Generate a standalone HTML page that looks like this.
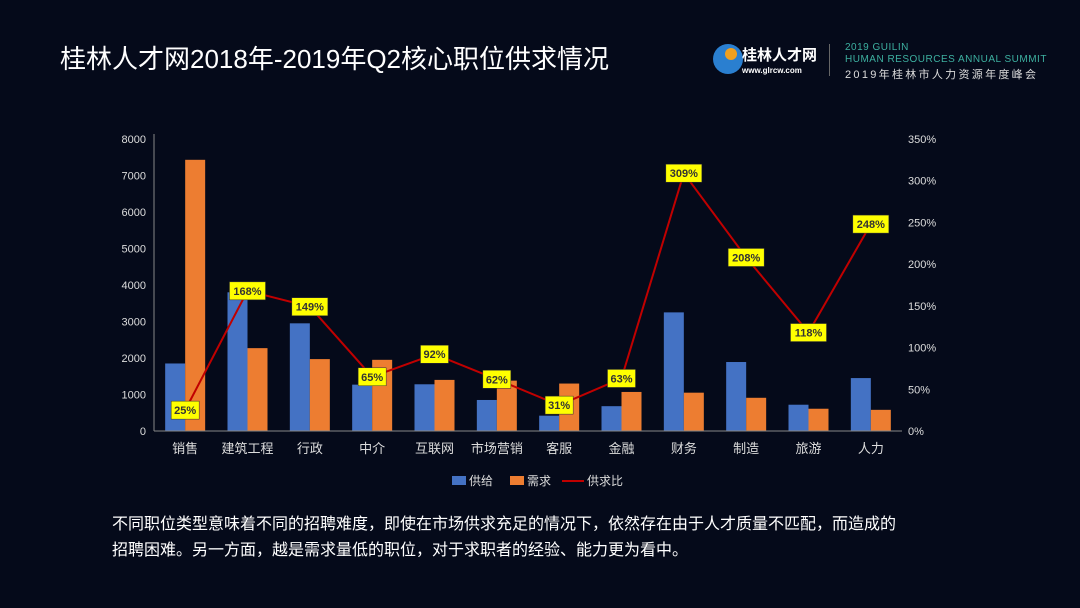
<!DOCTYPE html>
<html><head><meta charset="utf-8">
<style>
body{margin:0;width:1080px;height:608px;background:#050a1a;overflow:hidden;font-family:"Liberation Sans","Noto Sans CJK SC",sans-serif;color:#fff;position:relative}
.t{position:absolute}
</style></head><body>
<div class="t" style="left:60px;top:39px;font-size:26px;color:#fff">桂林人才网2018年-2019年Q2核心职位供求情况</div>
<div class="t" style="left:713px;top:44px;width:30px;height:30px;border-radius:50%;background:#2a7fd0"></div>
<div class="t" style="left:725px;top:48px;width:12px;height:12px;border-radius:50%;background:#f0a020"></div>
<div class="t" style="left:742px;top:44px;font-size:15px;font-weight:bold">桂林人才网</div>
<div class="t" style="left:742px;top:66px;font-size:8px;font-weight:bold">www.glrcw.com</div>
<div class="t" style="left:829px;top:44px;width:1px;height:32px;background:#666"></div>
<div class="t" style="left:845px;top:42px;font-size:10px;line-height:12px;color:#3db0a0;letter-spacing:0.5px">2019 GUILIN<br>HUMAN RESOURCES ANNUAL SUMMIT</div>
<div class="t" style="left:845px;top:66px;font-size:11px;color:#ddd;letter-spacing:2.3px">2019年桂林市人力资源年度峰会</div>
<svg class="t" style="left:0;top:0" width="1080" height="608" id="chart"></svg>
<div class="t" style="left:112px;top:512px;font-size:16px;line-height:26px;color:#fff">不同职位类型意味着不同的招聘难度，即使在市场供求充足的情况下，依然存在由于人才质量不匹配，而造成的<br>招聘困难。另一方面，越是需求量低的职位，对于求职者的经验、能力更为看中。</div>
<script>
const categories=["销售","建筑工程","行政","中介","互联网","市场营销","客服","金融","财务","制造","旅游","人力"];
const supply=[1850,3800,2950,1270,1280,850,420,680,3250,1890,720,1450];
const demand=[7430,2270,1970,1950,1400,1380,1300,1070,1050,910,610,580];
const ratio=[25,168,149,65,92,62,31,63,309,208,118,248];
const leftTicks=[0,1000,2000,3000,4000,5000,6000,7000,8000];
const rightTicks=[0,50,100,150,200,250,300,350];
const NS="http://www.w3.org/2000/svg";
const svg=document.getElementById('chart');
const X0=154,X1=902,Y0=431,Y1=139;
const band=(X1-X0)/categories.length;
const xc=i=>X0+band*(i+0.5);
const yL=v=>Y0-v/8000*(Y0-Y1);
const yR=v=>Y0-v/350*(Y0-Y1);
function mk(tag,attrs,parent){const e=document.createElementNS(NS,tag);for(const k in attrs)e.setAttribute(k,attrs[k]);(parent||svg).appendChild(e);return e;}
leftTicks.forEach(v=>{const t=mk('text',{x:146,y:yL(v)+4,'text-anchor':'end','font-size':11,fill:'#ddd'});t.textContent=v;

});
rightTicks.forEach(v=>{const t=mk('text',{x:908,y:yR(v)+4,'font-size':11,fill:'#ddd'});t.textContent=v+'%';

});
const la=mk('line',{x1:X0,y1:Y1-5,x2:X0,y2:Y0,stroke:'#888'});


categories.forEach((c,i)=>{
 const b=mk('rect',{x:xc(i)-20,y:yL(supply[i]),width:20,height:Y0-yL(supply[i]),fill:'#4472c4'});
 
 
 const d=mk('rect',{x:xc(i),y:yL(demand[i]),width:20,height:Y0-yL(demand[i]),fill:'#ed7d31'});
 
 
 const t=mk('text',{x:xc(i),y:453,'text-anchor':'middle','font-size':13,fill:'#ddd'});t.textContent=c;
 
 
});
const xa=mk('line',{x1:X0,y1:Y0,x2:X1,y2:Y0,stroke:'#888'});


const pl=mk('polyline',{points:ratio.map((r,i)=>xc(i)+','+yR(r)).join(' '),fill:'none',stroke:'#c00000','stroke-width':2});


ratio.forEach((r,i)=>{
 const w=r>=100?36:28;
 const bx=mk('rect',{x:xc(i)-w/2,y:yR(r)-9,width:w,height:18,fill:'#ffff00',stroke:'#333','stroke-width':0.5});
 
 
 const t=mk('text',{x:xc(i),y:yR(r)+4,'text-anchor':'middle','font-size':11,'font-weight':'bold',fill:'#333'});t.textContent=r+'%';
 
 
});
const lg=[[452,'#4472c4','供给','rect'],[510,'#ed7d31','需求','rect'],[562,'#c00000','供求比','line']];
lg.forEach(([x,c,l,ty])=>{
 const m=ty==='rect'?mk('rect',{x:x,y:476,width:14,height:9,fill:c}):mk('line',{x1:x,y1:481,x2:x+22,y2:481,stroke:c,'stroke-width':2});
 
 
 const t=mk('text',{x:x+(ty==='rect'?17:25),y:485,'font-size':12,fill:'#ddd'});t.textContent=l;
 
 
});
</script>
</body></html>
